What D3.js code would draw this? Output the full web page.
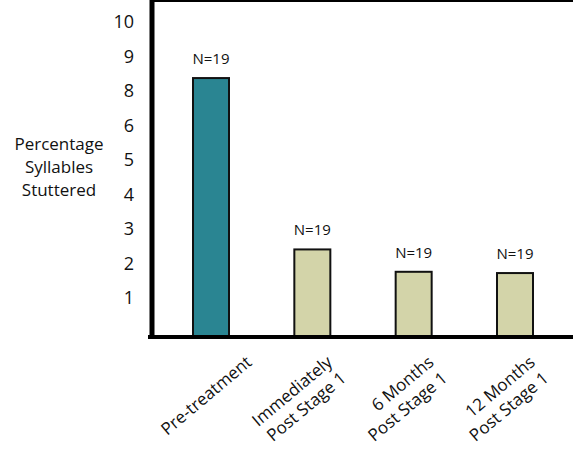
<!DOCTYPE html>
<html>
<head>
<meta charset="utf-8">
<script src="https://cdn.jsdelivr.net/npm/d3@7"></script>
<style>
  body { margin: 0; background: #fff; }
  text { font-family: "Open Sans", sans-serif; fill: #111; }
</style>
</head>
<body>
<svg id="chart" width="573" height="454"></svg>
<script>
// data
var categories = [
  ["Pre-treatment"],
  ["Immediately", "Post Stage 1"],
  ["6 Months", "Post Stage 1"],
  ["12 Months", "Post Stage 1"]
];
var values = [8.22, 2.78, 2.07, 2.03];
var nLabels = ["N=19", "N=19", "N=19", "N=19"];
var tickLabels = ["10", "9", "8", "6", "5", "4", "3", "2", "1"];
var yTitle = ["Percentage", "Syllables", "Stuttered"];

var svg = d3.select("#chart"),
    left = 152, top = 15, bottom = 337, right = 580;

var keys = categories.map(function(c) { return c.join(" "); });

var x = d3.scalePoint()
  .domain(keys)
  .range([211, 515]);

var y = d3.scaleLinear()
  .domain([0, 10])
  .range([bottom, 22]);

// tick labels sit evenly down the axis
var yTick = d3.scalePoint()
  .domain(tickLabels)
  .range([y(10), y(1.24)]);

var barWidth = 36;

svg.selectAll("rect.bar")
  .data(values)
  .enter().append("rect")
  .attr("class", "bar")
  .attr("x", function(d, i) { return x(keys[i]) - barWidth / 2; })
  .attr("y", function(d) { return y(d); })
  .attr("width", barWidth)
  .attr("height", function(d) { return bottom - y(d); })
  .attr("fill", function(d, i) { return i === 0 ? "#2a8592" : "#d3d4a9"; })
  .attr("stroke", "#111")
  .attr("stroke-width", 2);

svg.selectAll("text.n")
  .data(nLabels)
  .enter().append("text")
  .attr("class", "n")
  .attr("x", function(d, i) { return x(keys[i]); })
  .attr("y", function(d, i) { return y(values[i]) - 14; })
  .attr("text-anchor", "middle")
  .style("font-size", "15px")
  .text(function(d) { return d; });

// frame
svg.append("line")
  .attr("x1", left).attr("x2", right).attr("y1", top).attr("y2", top)
  .attr("stroke", "#000").attr("stroke-width", 4);
svg.append("line")
  .attr("x1", left).attr("x2", left).attr("y1", top - 2).attr("y2", bottom + 2)
  .attr("stroke", "#000").attr("stroke-width", 5);
svg.append("line")
  .attr("x1", left - 4).attr("x2", right).attr("y1", bottom).attr("y2", bottom)
  .attr("stroke", "#000").attr("stroke-width", 4);

svg.selectAll("text.tick")
  .data(tickLabels)
  .enter().append("text")
  .attr("class", "tick")
  .attr("x", 134)
  .attr("y", function(d) { return yTick(d); })
  .attr("dy", "0.35em")
  .attr("text-anchor", "end")
  .style("font-size", "18px")
  .text(function(d) { return d; });

svg.append("text")
  .attr("text-anchor", "middle")
  .style("font-size", "17px")
  .selectAll("tspan")
  .data(yTitle)
  .enter().append("tspan")
  .attr("x", 59)
  .attr("y", function(d, i) { return 150 + i * 23; })
  .text(function(d) { return d; });

// rotated category labels
var lab = svg.selectAll("g.lab")
  .data(categories)
  .enter().append("g")
  .attr("class", "lab")
  .attr("transform", function(d, i) {
    var dx = d.length === 1 ? 42 : 28;
    var dy = d.length === 1 ? 364 : 372;
    return "translate(" + (x(keys[i]) + dx) + "," + dy + ") rotate(-40)";
  });

lab.selectAll("text")
  .data(function(d) { return d; })
  .enter().append("text")
  .attr("text-anchor", "end")
  .attr("x", 0)
  .attr("y", function(d, i, n) { return (i - (n.length - 1) / 2) * 21; })
  .style("font-size", "17px")
  .text(function(d) { return d; });
</script>
</body>
</html>
